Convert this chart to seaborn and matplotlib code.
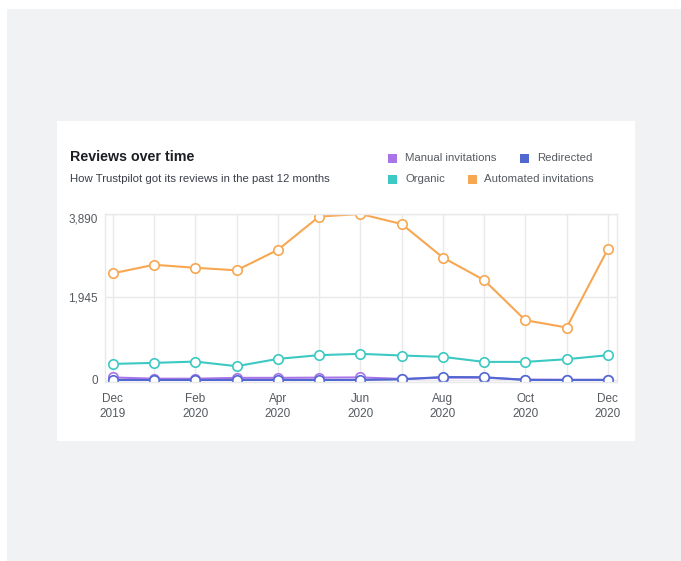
import numpy as np
import pandas as pd
import seaborn as sns
import matplotlib.pyplot as plt
from matplotlib.patches import Rectangle

months = ['Dec 2019', 'Jan 2020', 'Feb 2020', 'Mar 2020', 'Apr 2020', 'May 2020', 'Jun 2020',
          'Jul 2020', 'Aug 2020', 'Sep 2020', 'Oct 2020', 'Nov 2020', 'Dec 2020']
automated = [2500, 2700, 2630, 2570, 3050, 3830, 3890, 3655, 2870, 2340, 1400, 1230, 3070]
organic = [377, 401, 432, 323, 495, 582, 613, 574, 542, 424, 424, 487, 582]
manual = [60, 30, 30, 50, 50, 55, 60, 25, 55, 55, 10, 5, 5]
redirected = [0, 0, 0, 0, 0, 0, 0, 15, 70, 65, 0, 0, 0]
tick_labels = ['Dec\n2019', 'Feb\n2020', 'Apr\n2020', 'Jun\n2020', 'Aug\n2020', 'Oct\n2020', 'Dec\n2020']
y_ticks = [0, 1945, 3890]

series = {'Automated invitations': automated, 'Organic': organic,
          'Manual invitations': manual, 'Redirected': redirected}
colors = {'Manual invitations': '#a874e8', 'Redirected': '#5068d0',
          'Organic': '#3cc9c3', 'Automated invitations': '#f7a752'}

rows = []
for name, vals in series.items():
    for i, v in enumerate(vals):
        rows.append({'month': i, 'value': v, 'source': name})
df = pd.DataFrame(rows)

sns.set_style('white')
plt.rcParams['font.family'] = ['Liberation Sans', 'DejaVu Sans']

fig = plt.figure(figsize=(6.81, 5.61), dpi=100)
fig.patch.set_facecolor('white')
# gray page + white card (behind everything)
fig.patches.append(Rectangle((7 / 681, 0), 1, 1 - 9 / 561, transform=fig.transFigure,
                             facecolor='#f1f2f4', edgecolor='none', zorder=-10))
fig.patches.append(Rectangle((57 / 681, 1 - 441 / 561), (635 - 57) / 681, (441 - 121) / 561,
                             transform=fig.transFigure, facecolor='white', edgecolor='none', zorder=-9))

ax = fig.add_axes([105 / 681, 1 - 382 / 561, (617 - 105) / 681, (382 - 214) / 561])
ax.set_facecolor('white')

for name in series:
    sub = df[df['source'] == name]
    sns.lineplot(data=sub, x='month', y='value', ax=ax, color=colors[name], linewidth=1.5,
                 marker='o', markersize=6.8, markerfacecolor='white',
                 markeredgecolor=colors[name], markeredgewidth=1.2, legend=False)

ax.set_xlim(-0.19, 12.22)
ax.set_ylim(-47, 3890)
ax.set_xticks(range(0, 13, 2))
ax.set_xticklabels(tick_labels, linespacing=1.3)
ax.set_xticks(range(13), minor=True)
ax.set_yticks(y_ticks)
ax.set_yticklabels([f'{t:,}' for t in y_ticks])
ax.get_yticklabels()[-1].set_va('top')
ax.grid(axis='x', which='both', color='#e9e9ec', linewidth=1)
ax.grid(axis='y', which='major', color='#e9e9ec', linewidth=1)
ax.set_axisbelow(True)
ax.tick_params(axis='both', which='both', length=0, labelsize=8.5, labelcolor='#555a60')
ax.tick_params(axis='x', pad=8)
ax.tick_params(axis='y', pad=5)
ax.set_xlabel('')
ax.set_ylabel('')
for s in ax.spines.values():
    s.set_color('#e9e9ec')
    s.set_linewidth(1)

fig.text(70 / 681, 1 - 157 / 561, 'Reviews over time', fontsize=10.3, fontweight='bold',
         color='#1c1e24', va='center')
fig.text(70 / 681, 1 - 179 / 561, 'How Trustpilot got its reviews in the past 12 months',
         fontsize=8.2, color='#3a3f4b', va='center')

legend_pos = [('Manual invitations', 388, 405, 158), ('Redirected', 520, 537, 158),
              ('Organic', 388, 405, 179), ('Automated invitations', 468, 484, 179)]
for name, sx, tx, ly in legend_pos:
    fig.patches.append(Rectangle((sx / 681, 1 - (ly + 4.5) / 561), 9 / 681, 9 / 561,
                                 transform=fig.transFigure, facecolor=colors[name],
                                 edgecolor='none', zorder=3))
    fig.text(tx / 681, 1 - ly / 561, name, fontsize=8.2, color='#555a60', va='center')

fig.savefig('out.png', dpi=100)
